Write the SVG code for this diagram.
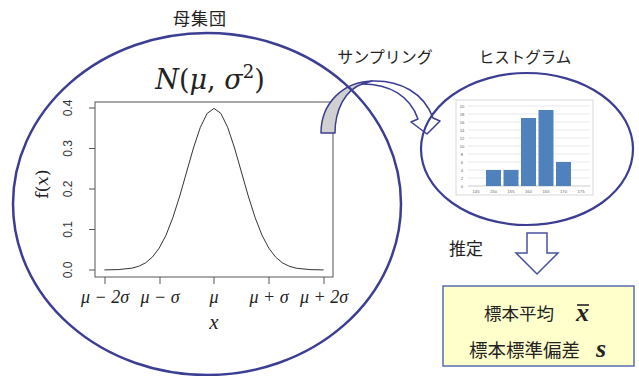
<svg xmlns="http://www.w3.org/2000/svg" width="639" height="376" viewBox="0 0 639 376">
<style>
.jp{font-family:"Noto Sans CJK JP","Noto Sans CJK SC",sans-serif;fill:#222}
.math{font-family:"Liberation Serif","DejaVu Serif",serif;font-style:italic;fill:#222}
.ax{font-family:"Liberation Sans",Arial,sans-serif;fill:#333}
.rline{stroke:#555;stroke-width:1;fill:none}
.ell{fill:none;stroke:#3B3E93}
.grid{stroke:#d9d9d9;stroke-width:0.6}
.bar{fill:#4F81BD}
.hl{font-family:"Liberation Sans",Arial,sans-serif;font-size:4.2px;fill:#666;text-anchor:middle}
</style>
<rect width="639" height="376" fill="#ffffff"/>

<g id="population-plot">
  <rect class="rline" x="95" y="102" width="238" height="175"/>
  <path class="rline" d="M95,270 H89 M95,229.5 H89 M95,189 H89 M95,148.5 H89 M95,108 H89"/>
  <path class="rline" d="M105,277 V284 M160,277 V284 M214,277 V284 M269,277 V284 M324,277 V284"/>
  <g class="ax" font-size="12" text-anchor="middle">
    <text transform="translate(72,270) rotate(-90)">0.0</text>
    <text transform="translate(72,229.5) rotate(-90)">0.1</text>
    <text transform="translate(72,189) rotate(-90)">0.2</text>
    <text transform="translate(72,148.5) rotate(-90)">0.3</text>
    <text transform="translate(72,108) rotate(-90)">0.4</text>
  </g>
  <text transform="translate(48,184) rotate(-90)" text-anchor="middle" font-family="DejaVu Serif, serif" font-size="17" fill="#222">f(<tspan font-style="italic">x</tspan>)</text>
  <path fill="none" stroke="#333" stroke-width="1" d="M104.4,269.9 L118.1,269.6 L131.8,268.2 L138.65,266.3 L145.5,262.9 L152.35,257.1 L159.2,248.1 L166.05,235.1 L172.9,217.5 L179.75,196 L186.6,172 L193.45,148 L200.3,127.4 L207.15,113.4 L214,108.4 L220.85,113.4 L227.7,127.4 L234.55,148 L241.4,172 L248.25,196 L255.1,217.5 L261.95,235.1 L268.8,248.1 L275.65,257.1 L282.5,262.9 L289.35,266.3 L296.2,268.2 L309.9,269.6 L323.6,269.9"/>
  <g class="math" font-size="18" text-anchor="middle">
    <text x="105" y="303">μ − 2σ</text>
    <text x="160" y="303">μ − σ</text>
    <text x="214" y="303">μ</text>
    <text x="269" y="303">μ + σ</text>
    <text x="324" y="303">μ + 2σ</text>
    <text x="214" y="329" font-size="21">x</text>
  </g>
  <text x="210" y="89" font-family="DejaVu Serif, serif" font-size="27" fill="#222" text-anchor="middle"><tspan font-style="italic">N</tspan>(<tspan font-style="italic">μ</tspan>, <tspan font-style="italic">σ</tspan><tspan font-size="18" dy="-11">2</tspan><tspan dy="11">)</tspan></text>
</g>

<g id="connectors">
  <g id="sampling-arrow">
    <path d="M321,133 L335,133 C335,110 345,90 362,84 L372,81 C343,82 321,103 321,133 Z" fill="#d0d0d0" stroke="#3B3E93" stroke-width="1.5" stroke-linejoin="round"/>
    <path d="M362,84 C390,84 410,96 418,119 L411,122 L427,134 L440,121 L433,118 C424,93 400,80 372,81 Z" fill="#ffffff" stroke="#3B3E93" stroke-width="1.5" stroke-linejoin="round"/>
  </g>
  <path id="estimate-arrow" d="M527,233 L547,233 L547,253 L558,253 L537,274 L516,253 L527,253 Z" fill="#ffffff" stroke="#4A52A0" stroke-width="1.5" stroke-linejoin="miter"/>
</g>

<g id="population">
  <ellipse class="ell" cx="207" cy="204" rx="194" ry="171" stroke-width="2.5"/>
  <text class="jp" x="200" y="25" font-size="17" text-anchor="middle" letter-spacing="1">母集団</text>
</g>

<g id="histogram">
  <ellipse class="ell" cx="527" cy="149" rx="106" ry="76" stroke-width="2.2"/>
  <rect x="456" y="100" width="137" height="95" fill="#ffffff" stroke="#cfcfcf" stroke-width="0.8"/>
  <path class="grid" d="M468,106 H590 M468,114 H590 M468,122 H590 M468,130 H590 M468,138 H590 M468,146 H590 M468,154 H590 M468,162 H590 M468,170 H590 M468,178 H590"/>
  <path d="M468,186 H590" stroke="#bfbfbf" stroke-width="0.8"/>
  <rect class="bar" x="486" y="170" width="15" height="16"/>
  <rect class="bar" x="503.5" y="170" width="15" height="16"/>
  <rect class="bar" x="521" y="118" width="15" height="68"/>
  <rect class="bar" x="538.5" y="110" width="15" height="76"/>
  <rect class="bar" x="556" y="162" width="15" height="24"/>
  <g class="hl">
    <text x="462" y="107.5">20</text><text x="462" y="115.5">18</text><text x="462" y="123.5">16</text>
    <text x="462" y="131.5">14</text><text x="462" y="139.5">12</text><text x="462" y="147.5">10</text>
    <text x="462" y="155.5">8</text><text x="462" y="163.5">6</text><text x="462" y="171.5">4</text>
    <text x="462" y="179.5">2</text><text x="462" y="187.5">0</text>
    <text x="476" y="193">145</text><text x="493.5" y="193">150</text><text x="511" y="193">155</text>
    <text x="528.5" y="193">160</text><text x="546" y="193">165</text><text x="563.5" y="193">170</text>
    <text x="581" y="193">175</text>
  </g>
  <text class="jp" x="525" y="63" font-size="15.5" text-anchor="middle">ヒストグラム</text>
</g>

<g id="sampling-label">
  <text class="jp" x="385" y="63" font-size="16" text-anchor="middle">サンプリング</text>
</g>

<g id="estimate-label">
  <text class="jp" x="466" y="255" font-size="17" text-anchor="middle">推定</text>
</g>

<g id="statistics">
  <rect x="443" y="286" width="191" height="80" fill="#FFFFCC" stroke="#5B6BB0" stroke-width="1.5"/>
  <text class="jp" x="484" y="320" font-size="17.5">標本平均</text>
  <text class="math" x="576" y="321" font-size="26" font-weight="bold">x</text>
  <line x1="577" y1="305" x2="589" y2="305" stroke="#222" stroke-width="1.6"/>
  <text class="jp" x="469" y="357" font-size="18.5">標本標準偏差</text>
  <text class="math" x="596" y="357" font-size="26" font-weight="bold">s</text>
</g>
</svg>
